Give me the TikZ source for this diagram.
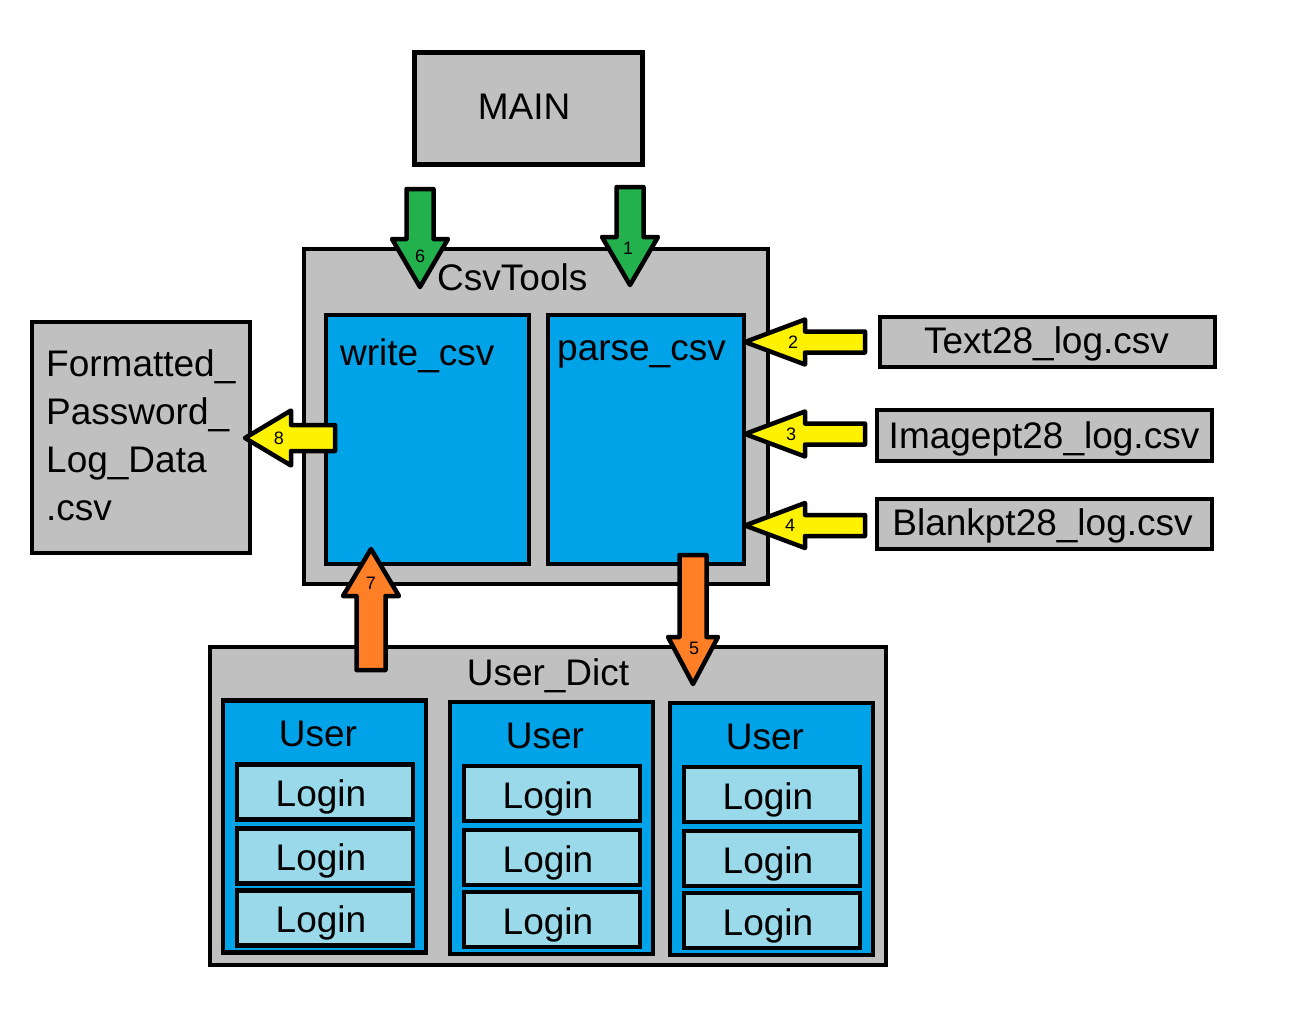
\documentclass[tikz,border=0pt]{standalone}
\usepackage{fontspec}
\setmainfont{Liberation Sans}
\definecolor{boxgray}{RGB}{192,192,192}
\definecolor{mblue}{RGB}{0,162,232}
\definecolor{lblue}{RGB}{153,217,234}
\definecolor{agreen}{RGB}{34,177,76}
\definecolor{ayellow}{RGB}{255,242,0}
\definecolor{aorange}{RGB}{255,127,39}
\begin{document}
\begin{tikzpicture}[x=1pt,y=-1pt,
  rect/.style={draw, line width=4.5pt, inner sep=0pt, minimum width=#1},
  graybox/.style={rect=#1, fill=boxgray},
  bluebox/.style={rect=#1, fill=mblue},
  loginbox/.style={rect=176pt, minimum height=55pt, fill=lblue},
  txt/.style={font=\fontsize{37}{48}\selectfont, inner sep=0pt},
  num/.style={font=\fontsize{18}{20}\selectfont, inner sep=0pt},
  blockarrow/.style={draw, line width=4.5pt, line join=round, fill=#1}]
\useasboundingbox (0,0) rectangle (1298,1033);

% main boxes
\node[graybox=228pt, minimum height=112pt] (main) at (528.5,108.5) {};
\node[txt, anchor=base] (maint) at (524,119) {MAIN};

\node[graybox=464pt, minimum height=335pt] (csv) at (536,416.5) {};
\node[txt, anchor=base west] (csvt) at (437,290) {CsvTools};

\node[bluebox=203pt, minimum height=249pt] (write) at (427.5,439.5) {};
\node[txt, anchor=base west] (writet) at (340,365) {write\_csv};
\node[bluebox=196pt, minimum height=249pt] (parse) at (646,439.5) {};
\node[txt, anchor=base west] (parset) at (557,360) {parse\_csv};

\node[graybox=335pt, minimum height=50pt] (f1) at (1047.5,342) {};
\node[txt, anchor=base] (f1t) at (1046.5,353) {Text28\_log.csv};
\node[graybox=335pt, minimum height=51pt] (f2) at (1044.5,435.5) {};
\node[txt, anchor=base] (f2t) at (1044,448) {Imagept28\_log.csv};
\node[graybox=335pt, minimum height=50pt] (f3) at (1044.5,524) {};
\node[txt, anchor=base] (f3t) at (1042.5,535) {Blankpt28\_log.csv};

\node[graybox=218pt, minimum height=231pt] (out) at (141,437.5) {};
\node[txt, anchor=north west, align=left] (outt) at (46,349)
  {Formatted\_\\Password\_\\Log\_Data\\.csv};

% user dictionary
\node[graybox=676pt, minimum height=318pt] (dict) at (548,806) {};
\node[txt, anchor=base] (dictt) at (548,685) {User\_Dict};

\foreach \i/\ux/\uy in {1/324.5/826.5, 2/551.5/828, 3/771.5/829}{
  \node[bluebox=203pt, minimum height=252pt] (u\i) at (\ux,\uy) {};
  \node[txt, anchor=base] (u\i t) at (\ux-6.5,\uy-80) {User};
  \foreach \j/\dy in {1/-34.5, 2/29.5, 3/91.5}{
    \node[loginbox] (l\i\j) at (\ux+0.5,\uy+\dy) {};
    \node[txt, anchor=base] (l\i\j t) at (\ux-3.5,\uy+\dy+14.5) {Login};
  }
}

% block arrows
% 6: MAIN -> CsvTools (green)
\draw[blockarrow=agreen] (406.5,189) -- (433.5,189) -- (433.5,239) -- (448,239) -- (420,287) -- (392,239) -- (406.5,239) -- cycle;
\node[num] (n6) at (420,256) {6};
% 1: MAIN -> CsvTools (green)
\draw[blockarrow=agreen] (616.5,187) -- (643.5,187) -- (643.5,237) -- (658,237) -- (630,285) -- (602,237) -- (616.5,237) -- cycle;
\node[num] (n1) at (628,248) {1};
% 2,3,4: files -> parse_csv (yellow)
\foreach \n/\cy/\lx in {2/342/793, 3/434/791, 4/525.5/790}{
  \draw[blockarrow=ayellow] (865,\cy-10.5) -- (865,\cy+10.5) -- (805,\cy+10.5) -- (805,\cy+22.5) -- (745,\cy) -- (805,\cy-22.5) -- (805,\cy-10.5) -- cycle;
  \node[num] (n\n) at (\lx,\cy) {\n};
}
% 8: write_csv -> output file (yellow)
\draw[blockarrow=ayellow] (335,425) -- (335,451) -- (291,451) -- (291,465.5) -- (245,438) -- (291,410.5) -- (291,425) -- cycle;
\node[num] (n8) at (279,438) {8};
% 5: parse_csv -> User_Dict (orange)
\draw[blockarrow=aorange] (679.5,555) -- (706.5,555) -- (706.5,637) -- (718,637) -- (693,684) -- (668,637) -- (679.5,637) -- cycle;
\node[num] (n5) at (694,648) {5};
% 7: User_Dict -> write_csv (orange)
\draw[blockarrow=aorange] (356.5,670) -- (385.5,670) -- (385.5,596) -- (399,596) -- (371,549) -- (343,596) -- (356.5,596) -- cycle;
\node[num] (n7) at (371,583) {7};
\end{tikzpicture}
\end{document}
